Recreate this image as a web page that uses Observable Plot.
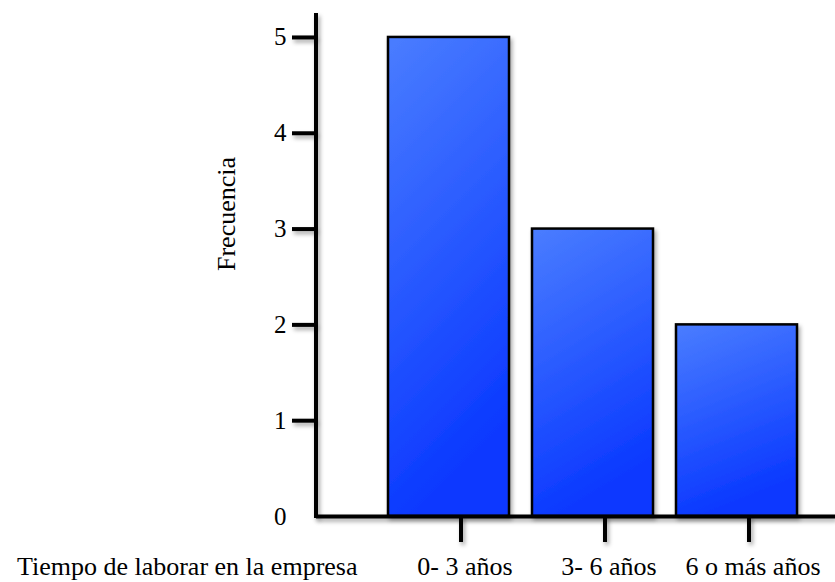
<!DOCTYPE html>
<html>
<head>
<meta charset="utf-8">
<script src="https://cdn.jsdelivr.net/npm/d3@7"></script>
<script src="https://cdn.jsdelivr.net/npm/@observablehq/plot@0.6"></script>
<style>
  html, body { margin: 0; padding: 0; background: #fff; }
  #chart svg { display: block; }
</style>
</head>
<body>
<div id="chart"></div>
<script>
// Tiempo de laborar en la empresa — frecuencias
const categorias = ["0- 3 años", "3- 6 años", "6 o más años"];
const frecuencias = [5, 3, 2];
const yTicks = [1, 2, 3, 4, 5];
const tituloX = "Tiempo de laborar en la empresa";
const tituloY = "Frecuencia";

const datos = categorias.map((c, i) => ({categoria: c, frecuencia: frecuencias[i]}));

const font = "'Liberation Serif', 'Times New Roman', serif";

// vertical axis line drawn from the y scale
const yAxisLine = (index, scales, values, dims) => {
  const x = dims.marginLeft;
  return d3.create("svg:line")
    .attr("class", "shadowed")
    .attr("x1", x).attr("x2", x)
    .attr("y1", scales.y(5.25)).attr("y2", scales.y(0) + 2)
    .attr("stroke", "black").attr("stroke-width", 4)
    .node();
};

const chart = Plot.plot({
  width: 835,
  height: 582,
  marginLeft: 316,
  marginRight: 0,
  marginTop: 13,
  marginBottom: 66,
  style: {fontFamily: font, fontSize: "26px", color: "black", background: "white"},
  x: {type: "band", domain: categorias, range: [387, 797], paddingInner: 0.16, paddingOuter: 0},
  y: {domain: [0, 5.25]},
  marks: [
    Plot.barY(datos, {x: "categoria", y: "frecuencia", fill: "url(#barGrad)", stroke: "black", strokeWidth: 2.5}),
    Plot.ruleY([0], {stroke: "black", strokeWidth: 4}),
    yAxisLine,
    Plot.axisY({ticks: yTicks, tickSize: 24, tickPadding: 6, strokeWidth: 4, label: null, tickFormat: d3.format("d"), fontSize: 25}),
    Plot.axisY({ticks: [0], tickSize: 0, tickPadding: 30, label: null, tickFormat: d3.format("d"), fontSize: 25}),
    // tick marks below the baseline, then the category labels
    Plot.axisX({tickSize: 26, dx: 12, strokeWidth: 4, label: null, tickFormat: () => ""}),
    Plot.axisX({tickSize: 0, tickPadding: 40, dx: 16, label: null, fontSize: 26}),
    Plot.text([tituloY], {frameAnchor: "left", dx: -90, dy: 6, rotate: -90, fontSize: 26}),
    Plot.text([tituloX], {frameAnchor: "bottom-left", textAnchor: "end", lineAnchor: "bottom", dx: 41, dy: 58, fontSize: 26})
  ]
});

// gradient fill and soft drop shadow
const svg = d3.select(chart);
const defs = svg.insert("defs", ":first-child");
const grad = defs.append("linearGradient").attr("id", "barGrad")
  .attr("x1", 0).attr("y1", 0).attr("x2", 0.25).attr("y2", 1);
grad.append("stop").attr("offset", "0%").attr("stop-color", "#4a7dff");
grad.append("stop").attr("offset", "100%").attr("stop-color", "#0a38ff");
const f = defs.append("filter").attr("id", "shadow")
  .attr("filterUnits", "userSpaceOnUse")
  .attr("x", 0).attr("y", 0).attr("width", 835).attr("height", 582);
f.append("feDropShadow").attr("dx", 2).attr("dy", 3).attr("stdDeviation", 2)
  .attr("flood-color", "#000").attr("flood-opacity", 0.35);

svg.selectAll('g[aria-label="bar"], g[aria-label="rule"], g[aria-label="y-axis tick"], g[aria-label="x-axis tick"], .shadowed')
  .attr("filter", "url(#shadow)");

document.getElementById("chart").appendChild(chart);
</script>
</body>
</html>
